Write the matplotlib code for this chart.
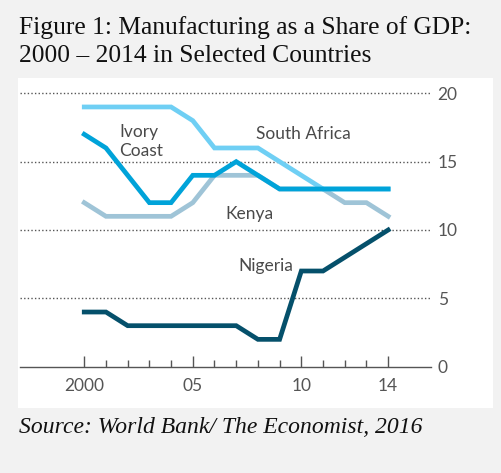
import numpy as np
import matplotlib
matplotlib.use("Agg")
import matplotlib.pyplot as plt
from matplotlib.patches import Rectangle

years = list(range(2000, 2015))
south_africa = [19, 19, 19, 19, 19, 18, 16, 16, 16, 15, 14, 13, 13, 13, 13]
kenya = [12, 11, 11, 11, 11, 12, 14, 14, 14, 13, 13, 13, 12, 12, 11]
ivory_coast = [17, 16, 14, 12, 12, 14, 14, 15, 14, 13, 13, 13, 13, 13, 13]
nigeria = [4, 4, 3, 3, 3, 3, 3, 3, 2, 2, 7, 7, 8, 9, 10]

y_ticks = [0, 5, 10, 15, 20]
x_ticks = [2000, 2005, 2010, 2014]
x_labels = ["2000", "05", "10", "14"]

W, H = 501, 473
fig = plt.figure(figsize=(W / 100, H / 100), dpi=100)
fig.patch.set_facecolor("#f2f2f2")

# white panel behind the chart
fig.patches.append(Rectangle((18 / W, 1 - 408 / H), 475 / W, 330 / H,
                             transform=fig.transFigure, facecolor="white",
                             edgecolor="none", zorder=-10))

# axes: y=0 at 366.7px, 13.67 px per unit, top at 21
bot = 1 - 366.7 / H
top = 1 - (366.7 - 21 * 13.67) / H
ax = fig.add_axes([20 / W, bot, (430.7 - 20) / W, top - bot])
ax.set_facecolor("none")
ax.set_xlim(1997.04, 2015.96)
ax.set_ylim(0, 21)

for v in y_ticks[1:]:
    ax.axhline(v, color="#555555", lw=1.0, ls=(0, (1, 1.6)), zorder=1)

lw = 3.4
ax.plot(years, kenya, color="#9fc4d7", lw=lw, zorder=2, solid_joinstyle="miter")
ax.plot(years, south_africa, color="#6fcff4", lw=lw, zorder=3, solid_joinstyle="miter")
ax.plot(years, ivory_coast, color="#00a3d9", lw=lw, zorder=4, solid_joinstyle="miter")
ax.plot(years, nigeria, color="#05506b", lw=lw, zorder=5, solid_joinstyle="miter")

lab = dict(fontsize=12.5, color="#4a4a4a", family="Lato")
ax.text(2001.6, 15.2, "Ivory\nCoast", va="bottom", ha="left", linespacing=1.2, **lab)
ax.text(2007.9, 16.45, "South Africa", va="bottom", ha="left", **lab)
ax.text(2006.5, 10.6, "Kenya", va="bottom", ha="left", **lab)
ax.text(2007.1, 6.8, "Nigeria", va="bottom", ha="left", **lab)

for s in ["top", "right", "left"]:
    ax.spines[s].set_visible(False)
ax.spines["bottom"].set_color("#555555")
ax.spines["bottom"].set_linewidth(1.0)

ax.set_xticks(x_ticks)
ax.set_xticklabels(x_labels)
ax.set_xticks(years, minor=True)
ax.tick_params(axis="x", which="major", direction="in", length=8, width=1,
               color="#555555", pad=8, labelsize=12.5, labelcolor="#555555")
ax.tick_params(axis="x", which="minor", direction="in", length=5, width=1,
               color="#555555")
for t in ax.get_xticklabels():
    t.set_family("Lato")

ax.yaxis.tick_right()
ax.set_yticks(y_ticks)
ax.tick_params(axis="y", length=0, pad=5, labelsize=12.5, labelcolor="#555555")
for t in ax.get_yticklabels():
    t.set_family("Lato")

serif = "Liberation Serif"
fig.text(19 / W, 1 - 34.3 / H, "Figure 1: Manufacturing as a Share of GDP:",
         fontsize=18.4, family=serif, color="#111111", va="baseline", ha="left")
fig.text(19 / W, 1 - 61.7 / H, "2000 \u2013 2014 in Selected Countries",
         fontsize=18.4, family=serif, color="#111111", va="baseline", ha="left")
fig.text(19 / W, 1 - 433 / H, "Source: World Bank/ The Economist, 2016",
         fontsize=17, family=serif, style="italic", color="#111111",
         va="baseline", ha="left")

fig.savefig("out.png", dpi=100, facecolor=fig.get_facecolor())
